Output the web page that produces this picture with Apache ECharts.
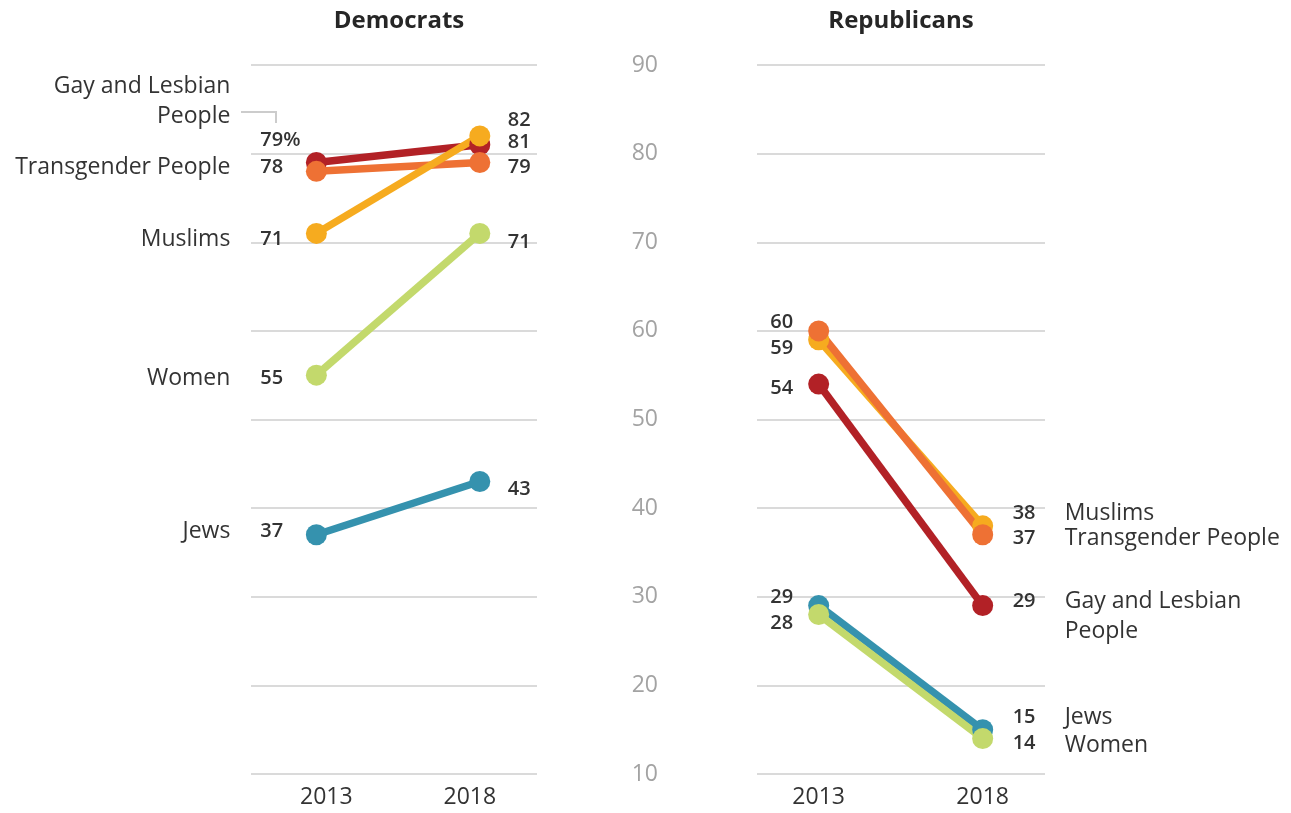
<!DOCTYPE html>
<html>
<head>
<meta charset="utf-8">
<script src="https://cdn.jsdelivr.net/npm/echarts@6/dist/echarts.min.js"></script>
<style>
  html, body { margin: 0; padding: 0; background: #fff; }
  #chart { width: 1291px; height: 813px; }
</style>
</head>
<body>
<div id="chart"></div>
<script>
// Survey years on the x axis
const years = [2013, 2018];

// Share (%) saying each group faces discrimination, Democrats
const demGay = [79, 81];
const demTrans = [78, 79];
const demMuslims = [71, 82];
const demWomen = [55, 71];
const demJews = [37, 43];

// Same measure, Republicans
const repGay = [54, 29];
const repTrans = [60, 37];
const repMuslims = [59, 38];
const repWomen = [28, 14];
const repJews = [29, 15];

// Group names printed next to the lines
const groupNames = {
  gay: 'Gay and Lesbian\nPeople',
  trans: 'Transgender People',
  muslims: 'Muslims',
  women: 'Women',
  jews: 'Jews'
};

const panelTitles = ['Democrats', 'Republicans'];

const colors = {
  gay: '#b22126',
  trans: '#ee7134',
  muslims: '#f6ab1f',
  women: '#c3d96c',
  jews: '#3592ae'
};

const FONT = '"Open Sans", "Noto Sans", sans-serif';
const TEXT = '#333333';

// Label nudges: [align, dx, dy] for each year's value, and [pointIndex, align, dx, dy] for the name
const demNudge = {
  jews:    { v: [['left', -56, -3],  ['left', 28, 8]],     n: [0, 'right', -86, -3] },
  women:   { v: [['left', -56, 3],   ['left', 28, 9]],     n: [0, 'right', -86, 3] },
  gay:     { v: [['left', -56, -22], ['left', 28, -2.7]],  n: [0, 'right', -86, -61] },
  trans:   { v: [['left', -56, -4],  ['left', 28, 4.5]],   n: [0, 'right', -86, -4] },
  muslims: { v: [['left', -56, 6],   ['left', 28, -15.6]], n: [0, 'right', -86, 6] }
};
const repNudge = {
  jews:    { v: [['right', -25.5, -8.5], ['left', 30, -12.6]], n: [1, 'left', 82, -12.3] },
  women:   { v: [['right', -25.5, 9.3],  ['left', 30, 5.2]],   n: [1, 'left', 82, 7] },
  gay:     { v: [['right', -25.5, 4.3],  ['left', 30, -4.2]],  n: [1, 'left', 82, 11] },
  muslims: { v: [['right', -25.5, 8.6],  ['left', 30, -12.2]], n: [1, 'left', 82, -12.5] },
  trans:   { v: [['right', -25.5, -8.8], ['left', 30, 4]],     n: [1, 'left', 82, 4] }
};

const demValues = { gay: demGay, trans: demTrans, muslims: demMuslims, women: demWomen, jews: demJews };
const repValues = { gay: repGay, trans: repTrans, muslims: repMuslims, women: repWomen, jews: repJews };

function buildSeries(panel, key, values, nudge) {
  const data = years.map(function (yr, i) {
    const v = nudge.v[i];
    const pct = (panel === 0 && key === 'gay' && i === 0) ? '%' : '';
    return {
      value: [yr, values[i]],
      label: {
        show: true,
        position: 'inside',
        align: v[0],
        verticalAlign: 'middle',
        offset: [v[1], v[2]],
        formatter: values[i] + pct
      }
    };
  });
  const n = nudge.n;
  return {
    type: 'line',
    xAxisIndex: panel,
    yAxisIndex: panel,
    data: data,
    symbol: 'circle',
    symbolSize: 21,
    showSymbol: true,
    lineStyle: { color: colors[key], width: 7.5 },
    itemStyle: { color: colors[key] },
    label: {
      color: TEXT,
      fontFamily: FONT,
      fontSize: 20,
      fontWeight: 600
    },
    emphasis: { disabled: true },
    silent: true,
    markPoint: {
      silent: true,
      symbol: 'circle',
      symbolSize: 1,
      itemStyle: { color: 'transparent' },
      data: [{
        coord: [years[n[0]], values[n[0]]],
        label: {
          show: true,
          position: 'inside',
          align: n[1],
          verticalAlign: 'middle',
          offset: [n[2], n[3]],
          formatter: groupNames[key],
          color: TEXT,
          fontFamily: FONT,
          fontSize: 23,
          lineHeight: 30
        }
      }]
    }
  };
}

const series = [];
Object.keys(demNudge).forEach(function (k) { series.push(buildSeries(0, k, demValues[k], demNudge[k])); });
Object.keys(repNudge).forEach(function (k) { series.push(buildSeries(1, k, repValues[k], repNudge[k])); });

const gridLine = { show: true, lineStyle: { color: '#dadada', width: 2 } };

function yAxis(gridIndex, showLabels) {
  return {
    type: 'value', gridIndex: gridIndex, min: 10, max: 90, interval: 10,
    axisLine: { show: false }, axisTick: { show: false },
    splitLine: gridLine,
    axisLabel: {
      show: showLabels, margin: 99, color: '#a3a3a3',
      fontFamily: FONT, fontSize: 23
    }
  };
}

function xAxis(gridIndex, min, max, pad) {
  return {
    type: 'value', gridIndex: gridIndex, min: min, max: max,
    axisLine: { show: false }, axisTick: { show: false }, splitLine: { show: false },
    axisLabel: {
      customValues: years,
      margin: 12,
      color: TEXT,
      fontFamily: FONT,
      fontSize: 23,
      formatter: function (v) { return v === years[0] ? '{a|' + v + '}' : '{b|' + v + '}'; },
      rich: {
        a: { fontFamily: FONT, fontSize: 23, color: TEXT, padding: [0, 0, 0, pad] },
        b: { fontFamily: FONT, fontSize: 23, color: TEXT, padding: [0, pad, 0, 0] }
      }
    }
  };
}

const chart = echarts.init(document.getElementById('chart'), null, { renderer: 'canvas' });
chart.setOption({
  animation: false,
  backgroundColor: '#ffffff',
  title: [
    { text: panelTitles[0], left: 394, top: 4, textAlign: 'center',
      textStyle: { fontFamily: FONT, fontSize: 24, fontWeight: 'bold', color: '#262626' } },
    { text: panelTitles[1], left: 896, top: 4, textAlign: 'center',
      textStyle: { fontFamily: FONT, fontSize: 24, fontWeight: 'bold', color: '#262626' } }
  ],
  grid: [
    { left: 251, right: 754, top: 65, bottom: 39 },
    { left: 757, right: 246, top: 65, bottom: 39 }
  ],
  xAxis: [xAxis(0, 2011, 2019.75, 20), xAxis(1, 2011.12, 2019.9, 0)],
  yAxis: [yAxis(0, false), yAxis(1, true)],
  series: series,
  graphic: [{
    type: 'polyline',
    silent: true,
    shape: { points: [[241, 112], [276, 112], [276, 123]] },
    style: { stroke: '#cccccc', lineWidth: 2, fill: null }
  }]
});
</script>
</body>
</html>
